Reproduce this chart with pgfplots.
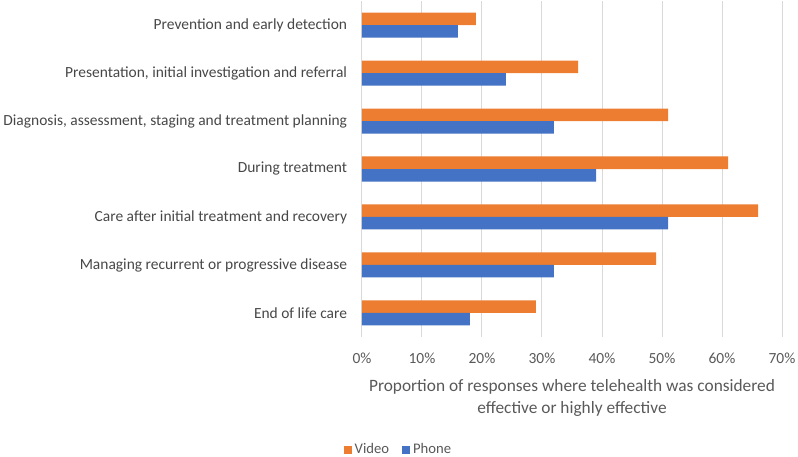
\documentclass[border=0pt]{standalone}
\usepackage{fontspec}
\setmainfont{Carlito}
\usepackage{pgfplots}
\pgfplotsset{compat=1.18}

\definecolor{vidorange}{HTML}{ED7D31}
\definecolor{phoneblue}{HTML}{4472C4}
\definecolor{gridgray}{HTML}{D9D9D9}
\definecolor{txtgray}{HTML}{595959}

\begin{document}
\begin{tikzpicture}
\begin{axis}[
    scale only axis,
    width=315pt, height=252pt,
    xbar, bar width=9.375pt,
    xmin=0, xmax=70,
    ymin=-0.5, ymax=6.5, y dir=reverse,
    ytick={0,...,6},
    yticklabels={Prevention and early detection,
        {Presentation, initial investigation and referral},
        {Diagnosis, assessment, staging and treatment planning},
        During treatment,
        Care after initial treatment and recovery,
        Managing recurrent or progressive disease,
        End of life care},
    xtick={0,10,...,70},
    xticklabel={\pgfmathprintnumber{\tick}\%},
    /pgf/number format/assume math mode=true,
    xmajorgrids, major grid style={gridgray, line width=0.75pt},
    axis line style={draw=none}, tick style={draw=none},
    yticklabel style={font=\fontsize{11.6}{13}\selectfont, text=txtgray!80!black, anchor=east, inner sep=0pt, xshift=-6.75pt},
    xticklabel style={font=\fontsize{11.6}{13}\selectfont, text=txtgray, anchor=north, inner sep=0pt, yshift=-12pt},
    xlabel={Proportion of responses where telehealth was considered\\effective or highly effective},
    xlabel style={font=\fontsize{13}{17}\selectfont, text=txtgray, align=center, at={(axis description cs:0.5,0)}, anchor=north, yshift=-28pt},
    legend style={at={(axis description cs:0.088,-0.336)}, anchor=center, draw=none, font=\fontsize{11}{13}\selectfont, text=txtgray, legend columns=2, /tikz/every even column/.append style={column sep=8pt}},
    legend image code/.code={\fill[#1] (0pt,-3pt) rectangle (6pt,3pt);},
]
\addplot[fill=vidorange, draw=none, bar shift=4.6875pt] coordinates {
    (19,0) (36,1) (51,2) (61,3) (66,4) (49,5) (29,6)
};
\addplot[fill=phoneblue, draw=none, bar shift=-4.6875pt] coordinates {
    (16,0) (24,1) (32,2) (39,3) (51,4) (32,5) (18,6)
};
\legend{Video, Phone}
\end{axis}
\pgfresetboundingbox
\path ([shift={(-271.5pt,-90pt)}]current axis.south west) rectangle ([shift={(12pt,0.75pt)}]current axis.north east);
\end{tikzpicture}
\end{document}
